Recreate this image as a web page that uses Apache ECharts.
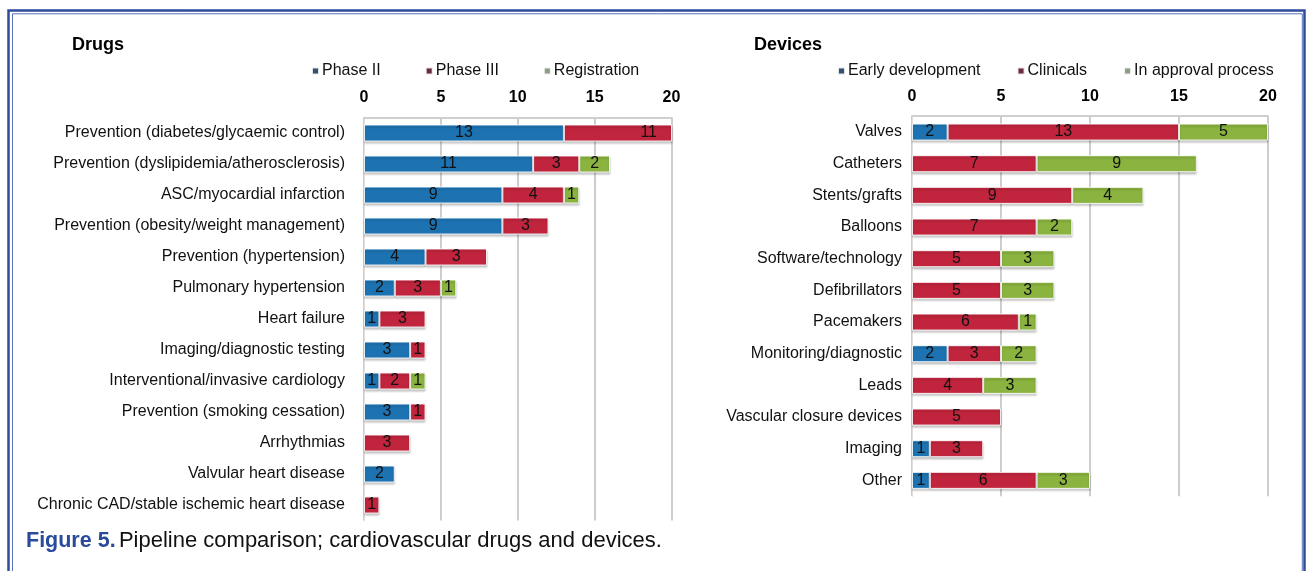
<!DOCTYPE html>
<html>
<head>
<meta charset="utf-8">
<script src="https://cdn.jsdelivr.net/npm/echarts@6/dist/echarts.min.js"></script>
<style>
  html, body { margin: 0; padding: 0; background: #ffffff; }
  #chart { width: 1306px; height: 571px; }
</style>
</head>
<body>
<div id="chart"></div>
<script>
// ---- Data ----
const drugCategories = [
  'Prevention (diabetes/glycaemic control)',
  'Prevention (dyslipidemia/atherosclerosis)',
  'ASC/myocardial infarction',
  'Prevention (obesity/weight management)',
  'Prevention (hypertension)',
  'Pulmonary hypertension',
  'Heart failure',
  'Imaging/diagnostic testing',
  'Interventional/invasive cardiology',
  'Prevention (smoking cessation)',
  'Arrhythmias',
  'Valvular heart disease',
  'Chronic CAD/stable ischemic heart disease'
];
const drugPhaseII      = [13, 11, 9, 9, 4, 2, 1, 3, 1, 3, 0, 2, 0];
const drugPhaseIII     = [11, 3, 4, 3, 4, 3, 3, 1, 2, 1, 3, 0, 1];
const drugRegistration = [0, 2, 1, 0, 0, 1, 0, 0, 1, 0, 0, 0, 0];
// labels printed on the bars where they differ from the drawn length
const drugPhaseIIIPrinted = { 'Prevention (hypertension)': 3 };

const deviceCategories = [
  'Valves', 'Catheters', 'Stents/grafts', 'Balloons', 'Software/technology',
  'Defibrillators', 'Pacemakers', 'Monitoring/diagnostic', 'Leads',
  'Vascular closure devices', 'Imaging', 'Other'
];
const deviceEarly     = [2, 0, 0, 0, 0, 0, 0, 2, 0, 0, 1, 1];
const deviceClinicals = [13, 7, 9, 7, 5, 5, 6, 3, 4, 5, 3, 6];
const deviceApproval  = [5, 9, 4, 2, 3, 3, 1, 2, 3, 0, 0, 3];

const axisTicks = [0, 5, 10, 15, 20];
const drugSeriesNames = ['Phase II', 'Phase III', 'Registration'];
const deviceSeriesNames = ['Early development', 'Clinicals', 'In approval process'];

// ---- Styles ----
const BLUE = '#1d73b2', RED = '#c1253d', GREEN = '#8ab33f';
const LEG = ['#34506e', '#6a2b3b', '#8d9b88'];
const FONT = '"Liberation Sans", Arial, Helvetica, sans-serif';
const AXMIN = axisTicks[0], AXMAX = axisTicks[axisTicks.length - 1];

function mkData(arr, cats, printed) {
  return arr.map((v, i) => {
    if (!v) return '-';
    const item = { value: v };
    if (printed && printed[cats[i]] !== undefined) {
      item.label = { formatter: String(printed[cats[i]]) };
    }
    return item;
  });
}

// label for a segment clipped by the axis max sits at the centre of the full segment
function clipAdjust(data, base, pxPerUnit) {
  return data.map((d, i) => {
    if (d === '-') return d;
    const start = base[i], end = start + d.value;
    if (end > AXMAX) {
      const full = (start + end) / 2, vis = (start + AXMAX) / 2;
      d.label = Object.assign({}, d.label || {}, { offset: [(full - vis) * pxPerUnit, 0] });
    }
    return d;
  });
}

function barSeries(name, data, idx, color) {
  return {
    name: name, type: 'bar', stack: 'total' + idx,
    xAxisIndex: idx, yAxisIndex: idx,
    barWidth: 17,
    data: data,
    itemStyle: {
      color: color, borderColor: 'rgba(255,255,255,0.85)', borderWidth: 1,
      shadowColor: 'rgba(0,0,0,0.22)', shadowBlur: 2, shadowOffsetY: 2
    },
    label: {
      show: true, position: 'inside', color: '#111', fontSize: 16, fontFamily: FONT,
      formatter: p => String(p.value)
    },
    emphasis: { disabled: true }
  };
}

const grids = [
  { left: 364, top: 117.5, width: 307.5, height: 403 },
  { left: 912, top: 116.2, width: 356, height: 380 }
];

function xAxisCfg(idx) {
  return {
    type: 'value', gridIndex: idx, position: 'top',
    min: AXMIN, max: AXMAX, interval: 5,
    axisLine: { show: true, lineStyle: { color: '#cfcfcf', width: 2 } },
    axisTick: { show: false },
    axisLabel: { margin: 12, color: '#000', fontWeight: 'bold', fontSize: 16, fontFamily: FONT },
    splitLine: { show: true, lineStyle: { color: '#cdcdcd', width: 2 } }
  };
}
function yAxisCfg(idx, cats, margin) {
  return {
    type: 'category', gridIndex: idx, inverse: true, data: cats,
    axisLine: { show: true, lineStyle: { color: '#e2dede', width: 1 } },
    axisTick: { show: false },
    axisLabel: { margin: margin, color: '#111', fontSize: 16, fontFamily: FONT }
  };
}

const drugPx = grids[0].width / (AXMAX - AXMIN);
const devPx = grids[1].width / (AXMAX - AXMIN);

const dII = mkData(drugPhaseII, drugCategories);
const dIII = clipAdjust(mkData(drugPhaseIII, drugCategories, drugPhaseIIIPrinted), drugPhaseII, drugPx);
const dReg = clipAdjust(mkData(drugRegistration, drugCategories),
  drugPhaseII.map((v, i) => v + drugPhaseIII[i]), drugPx);

const vE = mkData(deviceEarly, deviceCategories);
const vC = clipAdjust(mkData(deviceClinicals, deviceCategories), deviceEarly, devPx);
const vA = clipAdjust(mkData(deviceApproval, deviceCategories),
  deviceEarly.map((v, i) => v + deviceClinicals[i]), devPx);

function legendCfg(names, left, gap) {
  return {
    left: left, top: 63, itemWidth: 7, itemHeight: 7, itemGap: gap, icon: 'rect',
    padding: 0, selectedMode: false,
    textStyle: { color: '#111', fontSize: 16, fontFamily: FONT, padding: [0, 0, 0, -2] },
    data: names.map((n, i) => ({ name: n, itemStyle: { color: LEG[i] } }))
  };
}

const option = {
  backgroundColor: '#ffffff',
  animation: false,
  title: [
    { text: 'Drugs', left: 72, top: 36, padding: 0,
      textStyle: { fontSize: 18, fontWeight: 'bold', color: '#000', fontFamily: FONT } },
    { text: 'Devices', left: 754, top: 36, padding: 0,
      textStyle: { fontSize: 18, fontWeight: 'bold', color: '#000', fontFamily: FONT } }
  ],
  legend: [legendCfg(drugSeriesNames, 311, 44), legendCfg(deviceSeriesNames, 837, 36)],
  grid: grids,
  xAxis: [xAxisCfg(0), xAxisCfg(1)],
  yAxis: [yAxisCfg(0, drugCategories, 19), yAxisCfg(1, deviceCategories, 10)],
  series: [
    barSeries(drugSeriesNames[0], dII, 0, BLUE),
    barSeries(drugSeriesNames[1], dIII, 0, RED),
    barSeries(drugSeriesNames[2], dReg, 0, GREEN),
    barSeries(deviceSeriesNames[0], vE, 1, BLUE),
    barSeries(deviceSeriesNames[1], vC, 1, RED),
    barSeries(deviceSeriesNames[2], vA, 1, GREEN)
  ],
  graphic: [
    { type: 'polyline', silent: true,
      shape: { points: [[8.5, 600], [8.5, 10.5], [1304.5, 10.5], [1304.5, 600]] },
      style: { stroke: '#2f4c9c', lineWidth: 2.5, fill: null } },
    { type: 'polyline', silent: true,
      shape: { points: [[12.5, 600], [12.5, 13.8], [1302.3, 13.8], [1302.3, 600]] },
      style: { stroke: '#5a73b5', lineWidth: 1, fill: null } },
    { type: 'text', left: 26, top: 530, silent: true,
      style: {
        text: '{a|Figure 5.} {b|Pipeline comparison; cardiovascular drugs and devices.}',
        rich: {
          a: { fontSize: 21.5, fontWeight: 'bold', fill: '#2a4b9b', fontFamily: FONT },
          b: { fontSize: 22, fill: '#111', fontFamily: FONT }
        }
      } }
  ]
};

const chart = echarts.init(document.getElementById('chart'), null, { renderer: 'canvas' });
chart.setOption(option);
</script>
</body>
</html>
